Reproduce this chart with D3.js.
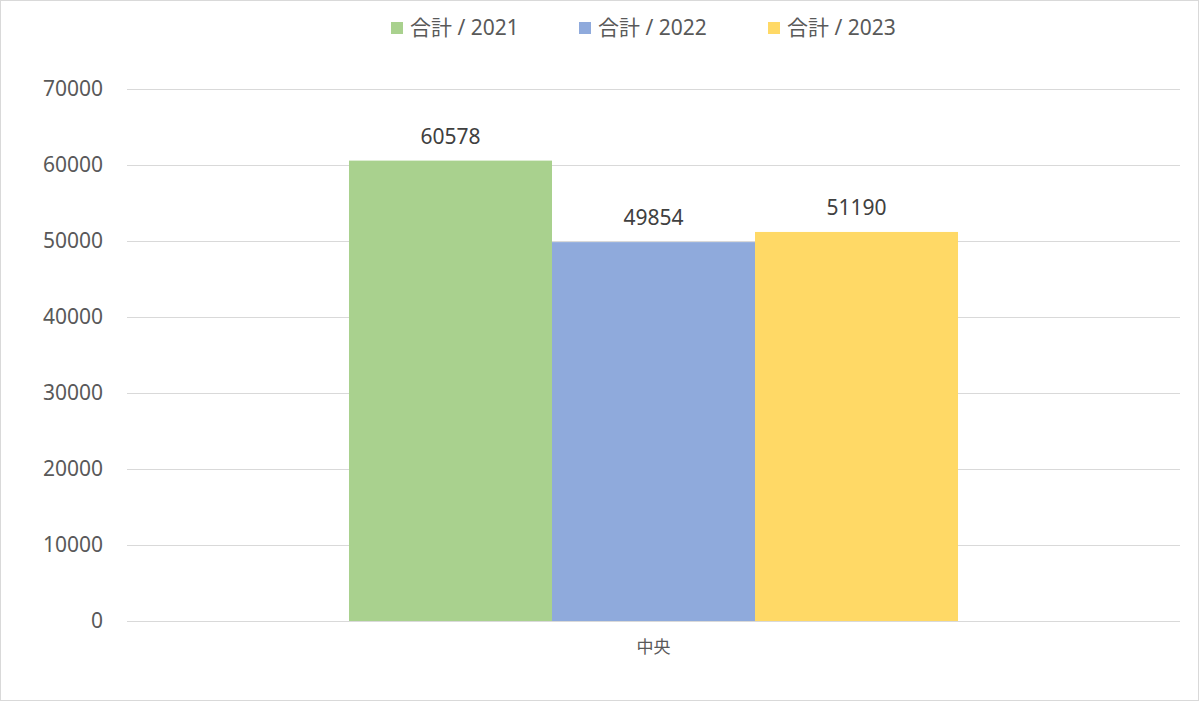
<!DOCTYPE html>
<html>
<head>
    <meta charset="utf-8">
    <script src="https://d3js.org/d3.v7.min.js"></script>
    <style>
        body { margin: 0; background: #ffffff; }
        svg text { font-family: 'Noto Sans', 'Noto Sans CJK JP', sans-serif; }
    </style>
</head>
<body>
    <svg id="chart" width="1200" height="702"></svg>
    <script>
        var categories = ["中央"];
        var seriesNames = ["合計 / 2021", "合計 / 2022", "合計 / 2023"];
        var values2021 = [60578];
        var values2022 = [49854];
        var values2023 = [51190];
        var yTicks = [0, 10000, 20000, 30000, 40000, 50000, 60000, 70000];
        var colors = ["#a9d18e", "#8faadc", "#ffd966"];

        var seriesValues = [values2021, values2022, values2023];

        var svg = d3.select("#chart");
        var plotLeft = 127, plotRight = 1180, plotTop = 89, plotBottom = 621;

        // border of the chart area
        svg.append("rect")
            .attr("x", 0.5).attr("y", 0.5)
            .attr("width", 1198).attr("height", 700)
            .attr("fill", "#ffffff")
            .attr("stroke", "#d9d9d9");

        var yScale = d3.scaleLinear().domain([0, 70000]).range([plotBottom, plotTop]);
        var xScale = d3.scaleBand().domain(categories).range([plotLeft, plotRight]).paddingInner(0).paddingOuter(0.3645);
        var xSub = d3.scaleBand().domain(seriesNames).range([0, xScale.bandwidth()]);

        // gridlines
        svg.append("g").selectAll("line")
            .data(yTicks)
            .enter().append("line")
            .attr("x1", plotLeft).attr("x2", plotRight)
            .attr("y1", function (d) { return Math.round(yScale(d)) + 0.5; })
            .attr("y2", function (d) { return Math.round(yScale(d)) + 0.5; })
            .attr("stroke", "#d9d9d9")
            .attr("stroke-width", 1);

        // y axis labels
        var yAxis = d3.axisLeft(yScale).tickValues(yTicks).tickFormat(d3.format("d")).tickSize(0).tickPadding(24);
        var yg = svg.append("g")
            .attr("transform", "translate(" + plotLeft + ",0)")
            .call(yAxis);
        yg.select(".domain").remove();
        yg.selectAll("text")
            .style("font-family", "'Noto Sans', sans-serif")
            .style("font-size", "21px")
            .style("fill", "#595959");

        // bars
        var groups = svg.append("g").selectAll("g")
            .data(categories)
            .enter().append("g")
            .attr("transform", function (d) { return "translate(" + xScale(d) + ",0)"; });

        seriesNames.forEach(function (name, si) {
            groups.append("rect")
                .attr("x", xSub(name))
                .attr("width", xSub.bandwidth())
                .attr("y", function (d, i) { return yScale(seriesValues[si][i]); })
                .attr("height", function (d, i) { return plotBottom - yScale(seriesValues[si][i]); })
                .attr("fill", colors[si]);

            groups.append("text")
                .attr("x", xSub(name) + xSub.bandwidth() / 2)
                .attr("y", function (d, i) { return yScale(seriesValues[si][i]) - 17; })
                .attr("text-anchor", "middle")
                .style("font-size", "21px")
                .style("fill", "#404040")
                .text(function (d, i) { return seriesValues[si][i]; });
        });

        // x axis labels
        var xAxis = d3.axisBottom(xScale).tickSize(0).tickPadding(20);
        var xg = svg.append("g")
            .attr("transform", "translate(0," + plotBottom + ")")
            .call(xAxis);
        xg.select(".domain").remove();
        xg.selectAll("text")
            .style("font-family", "'Noto Sans CJK JP', sans-serif")
            .style("font-size", "17px")
            .style("fill", "#595959");

        // legend
        var legendX = [391, 579, 768];
        var legend = svg.append("g").selectAll("g")
            .data(seriesNames)
            .enter().append("g")
            .attr("transform", function (d, i) { return "translate(" + legendX[i] + ",22)"; });
        legend.append("rect")
            .attr("width", 12).attr("height", 12)
            .attr("fill", function (d, i) { return colors[i]; });
        legend.append("text")
            .attr("x", 19).attr("y", 13)
            .style("font-size", "21px")
            .style("fill", "#595959")
            .text(function (d) { return d; });
    </script>
</body>
</html>
